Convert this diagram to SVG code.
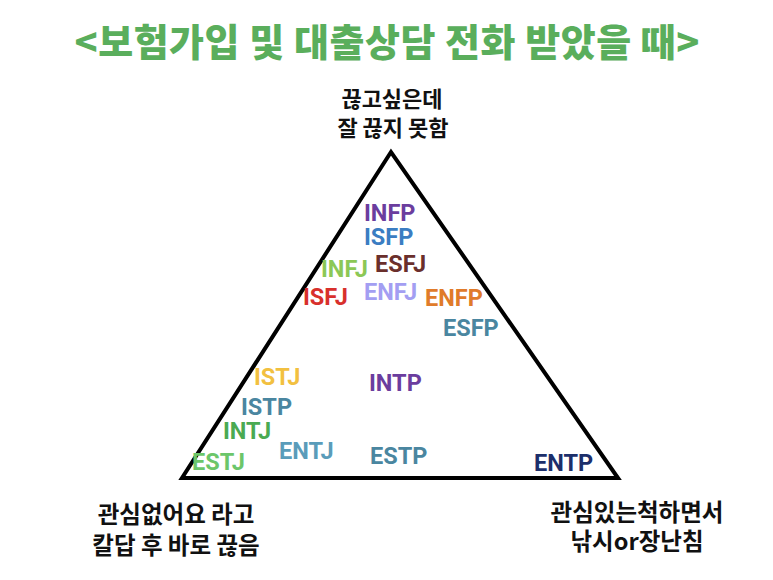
<svg xmlns="http://www.w3.org/2000/svg" width="773" height="580" viewBox="0 0 773 580">
<style>
.title{font-family:"Noto Sans CJK KR","Noto Sans",sans-serif;font-weight:900;font-size:38px;fill:#5aae5c;text-anchor:middle}
.lbl{font-family:"Noto Sans CJK KR","Noto Sans",sans-serif;font-weight:700;font-size:22px;fill:#111;text-anchor:middle}
.lb2{font-size:23.5px}
.m{font-family:Roboto,"Liberation Sans",sans-serif;font-weight:700;font-size:23.5px}
</style>
<rect width="773" height="580" fill="#fff"/>
<text class="title" x="387" y="56" textLength="625" lengthAdjust="spacing">&lt;보험가입 및 대출상담 전화 받았을 때&gt;</text>
<g id="connectors">
<polygon points="391,152 182,478 618,478" fill="none" stroke="#000" stroke-width="4" stroke-linejoin="miter"/>
</g>
<g id="top"><text class="lbl" x="392" y="107">끊고싶은데</text><text class="lbl" x="393" y="136">잘 끊지 못함</text></g>
<g id="left"><text class="lbl lb2" x="176" y="523">관심없어요 라고</text><text class="lbl lb2" x="176" y="554">칼답 후 바로 끊음</text></g>
<g id="right"><text class="lbl lb2" x="637" y="521">관심있는척하면서</text><text class="lbl lb2" x="637" y="550">낚시or장난침</text></g>
<g id="INFP"><text class="m" x="364" y="221" fill="#6b3d9e">INFP</text></g>
<g id="ISFP"><text class="m" x="364" y="245" fill="#3b7dc2">ISFP</text></g>
<g id="INFJ"><text class="m" x="321" y="277" fill="#8cc856">INFJ</text></g>
<g id="ESFJ"><text class="m" x="375" y="272" fill="#6a2f2c">ESFJ</text></g>
<g id="ISFJ"><text class="m" x="303" y="305" fill="#d8302c">ISFJ</text></g>
<g id="ENFJ"><text class="m" x="364" y="300" fill="#a39ef2">ENFJ</text></g>
<g id="ENFP"><text class="m" x="425" y="306" fill="#e07b2a">ENFP</text></g>
<g id="ESFP"><text class="m" x="443" y="336" fill="#4a86a0">ESFP</text></g>
<g id="ISTJ"><text class="m" x="254" y="385" fill="#f2c040">ISTJ</text></g>
<g id="INTP"><text class="m" x="369" y="391" fill="#6b3d9e">INTP</text></g>
<g id="ISTP"><text class="m" x="241" y="415" fill="#4a86a0">ISTP</text></g>
<g id="INTJ"><text class="m" x="223" y="439" fill="#4aaa52">INTJ</text></g>
<g id="ENTJ"><text class="m" x="279" y="459" fill="#5a9cba">ENTJ</text></g>
<g id="ESTJ"><text class="m" x="192" y="470" fill="#6cc66a">ESTJ</text></g>
<g id="ESTP"><text class="m" x="370" y="464" fill="#4a86a0">ESTP</text></g>
<g id="ENTP"><text class="m" x="534" y="471" fill="#1c2f6b">ENTP</text></g>
</svg>
